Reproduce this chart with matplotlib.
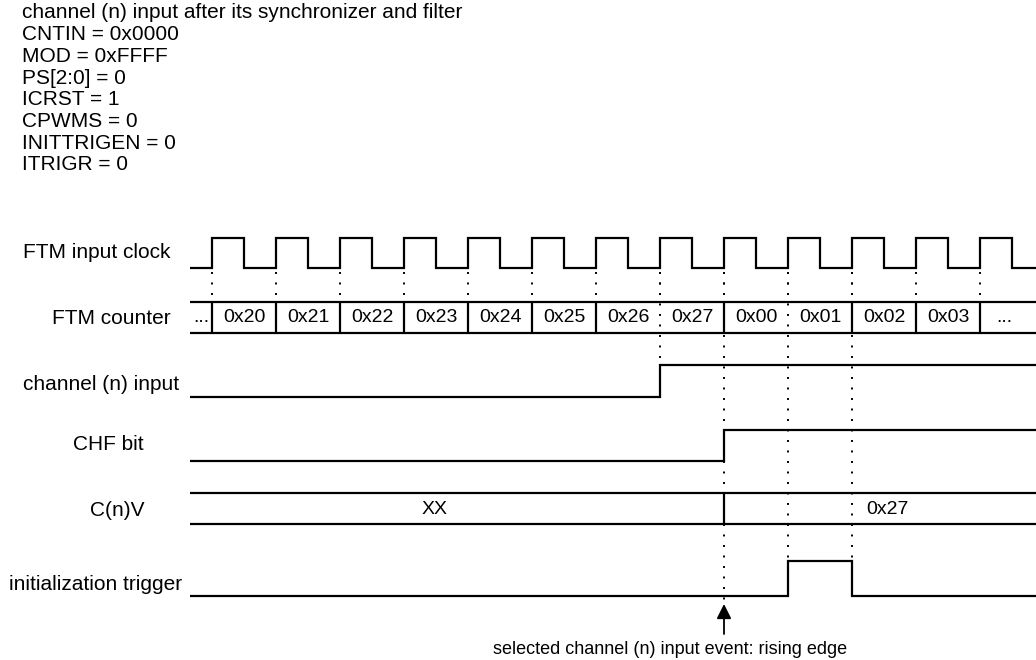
import matplotlib.pyplot as plt

plt.rcParams['font.family'] = ['Liberation Sans', 'DejaVu Sans']

# register settings shown above the diagram
settings = ["channel (n) input after its synchronizer and filter",
            "CNTIN = 0x0000", "MOD = 0xFFFF", "PS[2:0] = 0", "ICRST = 1",
            "CPWMS = 0", "INITTRIGEN = 0", "ITRIGR = 0"]

# timing, in FTM input clock cycles (rising edges)
clock_rise = [0, 1, 2, 3, 4, 5, 6, 7, 8, 9, 10, 11, 12]
counter_values = ["0x20", "0x21", "0x22", "0x23", "0x24", "0x25",
                  "0x26", "0x27", "0x00", "0x01", "0x02", "0x03"]
channel_rise = 7
chf_set = 8
cnv_change = 8
cnv_values = ["XX", "0x27"]
trigger_pulse = [9, 10]
event_cycle = 8

W, H = 1036, 660
X0, PER = 212, 64          # pixel of first rising edge, pixels per cycle
T_START = (190 - X0) / PER
T_END = (W - X0) / PER
FS = 15
FS_BUS = 14


def px(t):
    return X0 + PER * t


fig = plt.figure(figsize=(W / 100, H / 100), dpi=100)
ax = fig.add_axes([0, 0, 1, 1])
ax.set_xlim(px(-X0 / PER), px(T_END))
ax.set_ylim(H, 0)
ax.axis('off')

lw = 1.6
kw = dict(color='black', lw=lw, solid_capstyle='butt', solid_joinstyle='miter')
dot = dict(color='black', lw=1.4, linestyle=(0, (1, 4.4)))


def step(events, lo, hi, start_high=False):
    """draw a digital waveform toggling at the given cycle times"""
    ts = [T_START] + list(events) + [T_END]
    xs, ys = [], []
    level = start_high
    for i in range(len(ts) - 1):
        y = hi if level else lo
        xs += [px(ts[i]), px(ts[i + 1])]
        ys += [y, y]
        level = not level
    ax.plot(xs, ys, **kw)


# FTM input clock
clk_events = []
for k in clock_rise:
    clk_events += [k, k + 0.5]
step(clk_events, 268, 238)

# dotted guides from the clock edges
for k in clock_rise:
    ax.plot([px(k), px(k)], [272, 299], **dot)
ax.plot([px(channel_rise)] * 2, [272, 365], **dot)
ax.plot([px(event_cycle)] * 2, [272, 604], **dot)
for k in trigger_pulse:
    ax.plot([px(k)] * 2, [272, 561], **dot)

# FTM counter bus
ax.plot([px(T_START), px(T_END)], [302, 302], **kw)
ax.plot([px(T_START), px(T_END)], [333, 333], **kw)
for k in clock_rise:
    if k in (channel_rise, trigger_pulse[0]):
        continue
    ax.plot([px(k), px(k)], [302, 333], **kw)
ax.text(px(T_START / 2), 317, "...", ha='center', va='center', fontsize=FS_BUS)
for i, v in enumerate(counter_values):
    ax.text(px(clock_rise[i] + 0.5), 317, v, ha='center', va='center',
            fontsize=FS_BUS)
ax.text(px((clock_rise[-1] + T_END) / 2) - 4, 317, "...", ha='center',
        va='center', fontsize=FS_BUS)

# channel (n) input
step([channel_rise], 397, 365)
# CHF bit
step([chf_set], 461, 430)

# C(n)V bus
ax.plot([px(T_START), px(T_END)], [493, 493], **kw)
ax.plot([px(T_START), px(T_END)], [524, 524], **kw)
ax.plot([px(cnv_change), px(cnv_change)], [493, 524], **kw)
ax.text(435, 509, cnv_values[0], ha='center', va='center', fontsize=FS_BUS)
ax.text(887, 509, cnv_values[1], ha='center', va='center', fontsize=FS_BUS)

# initialization trigger
step(trigger_pulse, 596, 561)

# event arrow
ax.annotate("", xy=(px(event_cycle), 604), xytext=(px(event_cycle), 634),
            arrowprops=dict(arrowstyle='-|>', color='black', lw=1.3,
                            mutation_scale=22, shrinkA=0, shrinkB=0))
ax.text(670, 650, "selected channel (n) input event: rising edge",
        ha='center', va='center', fontsize=13)

# signal names
labels = [("FTM input clock", 23, 252), ("FTM counter", 52, 318),
          ("channel (n) input", 23, 385), ("CHF bit", 73, 445),
          ("C(n)V", 90, 510), ("initialization trigger", 9, 585)]
for txt, x, y in labels:
    ax.text(x, y, txt, ha='left', va='center', fontsize=FS)

for i, s in enumerate(settings):
    ax.text(22, 13 + 21.7 * i, s, ha='left', va='center', fontsize=FS)

fig.savefig("out.png", dpi=100)
